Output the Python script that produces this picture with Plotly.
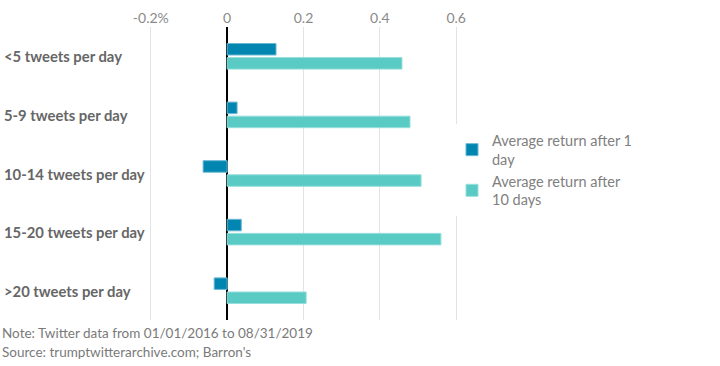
import plotly.graph_objects as go

categories = ["<5 tweets per day", "5-9 tweets per day", "10-14 tweets per day",
              "15-20 tweets per day", ">20 tweets per day"]
ret_1day = [0.128, 0.026, -0.063, 0.037, -0.034]
ret_10day = [0.458, 0.479, 0.508, 0.560, 0.207]
tick_vals = [-0.2, 0, 0.2, 0.4, 0.6]
tick_text = ["-0.2%", "0", "0.2", "0.4", "0.6"]

fig = go.Figure()
fig.add_trace(go.Bar(
    y=categories, x=ret_1day, orientation="h",
    name="Average return after 1<br>day",
    marker=dict(color="#0086B1", line=dict(color="#6cb8d2", width=1)),
))
fig.add_trace(go.Bar(
    y=categories, x=ret_10day, orientation="h",
    name="Average return after<br>10 days",
    marker=dict(color="#5ACAC5", line=dict(color="#96dfdb", width=1)),
))

L, R = 147, 460
W = R - L
for c in categories:
    fig.add_annotation(x=(2 - L) / W, xref="paper", y=c, yref="y", text=c,
                       showarrow=False, xanchor="left", yanchor="middle",
                       font=dict(family="Lato", size=14.8, color="#666666", weight="bold"))

fig.add_annotation(x=(0 - L) / W, xref="paper", y=-0.01, yref="paper", xanchor="left",
                   yanchor="top", showarrow=False,
                   text="Note: Twitter data from 01/01/2016 to 08/31/2019",
                   font=dict(family="Lato", size=13.5, color="#7a7a7a"))
fig.add_annotation(x=(0 - L) / W, xref="paper", y=-0.075, yref="paper", xanchor="left",
                   yanchor="top", showarrow=False,
                   text="Source: trumptwitterarchive.com; Barron's",
                   font=dict(family="Lato", size=13.5, color="#7a7a7a"))

fig.update_layout(
    width=720, height=366,
    margin=dict(l=L, r=720 - R, t=27, b=46, autoexpand=False),
    paper_bgcolor="white", plot_bgcolor="white",
    barmode="group", bargap=0.52, bargroupgap=0.18,
    font=dict(family="Lato", color="#808080"),
    legend=dict(x=(452 - L) / W, y=0.668, xanchor="left", yanchor="top",
                font=dict(family="Lato", size=14.5, color="#808080"),
                tracegroupgap=14, itemwidth=30),
    xaxis=dict(range=[-0.21, 0.61], side="top", tickvals=tick_vals, ticktext=tick_text,
               showgrid=True, gridcolor="#e3e3e3", gridwidth=1,
               zeroline=True, zerolinecolor="#000000", zerolinewidth=1.5,
               tickfont=dict(family="Lato", size=14, color="#8a8a8a"),
               automargin=False,
               showline=False, ticks=""),
    yaxis=dict(autorange="reversed", showticklabels=False, showgrid=False, ticks="",
               automargin=False),
)

fig.write_html("out.html", config={"displayModeBar": False},
               post_script="document.body.style.margin='0';")
